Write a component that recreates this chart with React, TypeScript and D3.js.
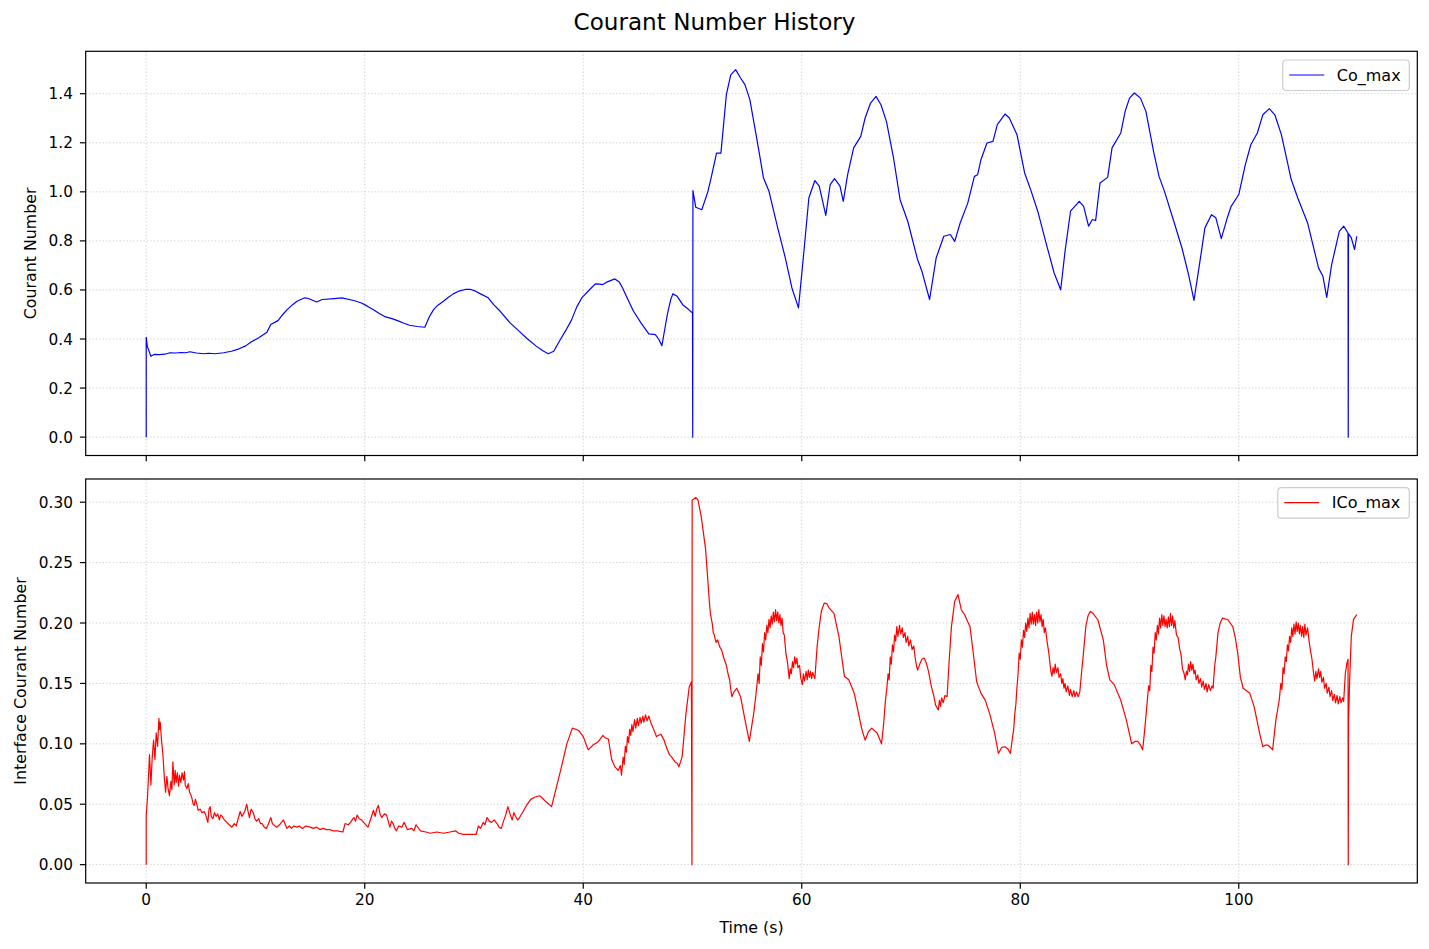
import React from 'react';
import * as d3 from 'd3';

// Co_max over time: [time (s), value]
const coMax: [number, number][] = [
  [0, 0], [0.0, 0.407], [0.1, 0.37], [0.43, 0.33], [0.72, 0.337], [1.2, 0.336], [1.7, 0.338],
  [2.17, 0.344], [2.7, 0.343], [3.2, 0.345], [3.6, 0.344], [4.0, 0.348], [4.6, 0.343], [5.25, 0.34],
  [5.7, 0.342], [6.3, 0.34], [7.07, 0.344], [7.8, 0.35], [8.5, 0.36], [9.1, 0.372], [9.6, 0.388],
  [10.3, 0.405], [11.05, 0.428], [11.4, 0.459], [12.06, 0.475], [12.5, 0.5], [12.9, 0.52], [13.4, 0.54],
  [13.8, 0.554], [14.5, 0.568], [14.85, 0.565], [15.6, 0.551], [16.1, 0.561], [17.2, 0.565], [17.9, 0.568],
  [19.0, 0.557], [19.7, 0.547], [20.2, 0.535], [20.8, 0.519], [21.3, 0.505], [21.9, 0.49], [22.5, 0.483],
  [23.0, 0.475], [23.6, 0.464], [24.1, 0.456], [24.8, 0.451], [25.5, 0.448], [25.9, 0.49], [26.3, 0.52],
  [26.7, 0.538], [27.2, 0.554], [27.6, 0.568], [28.1, 0.584], [28.6, 0.595], [29.2, 0.602], [29.7, 0.602],
  [30.1, 0.596], [30.6, 0.584], [31.3, 0.568], [31.8, 0.54], [32.4, 0.513], [33.3, 0.466], [34.2, 0.429],
  [34.9, 0.4], [35.7, 0.371], [36.3, 0.352], [36.8, 0.34], [37.3, 0.35], [37.8, 0.39], [38.4, 0.435],
  [38.9, 0.475], [39.4, 0.53], [39.9, 0.57], [40.6, 0.602], [41.1, 0.625], [41.5, 0.624], [41.8, 0.622],
  [42.2, 0.633], [42.9, 0.645], [43.3, 0.632], [43.6, 0.608], [44.1, 0.56], [44.6, 0.513], [45.3, 0.465],
  [46.0, 0.421], [46.6, 0.418], [46.9, 0.4], [47.2, 0.373], [47.5, 0.45], [47.7, 0.5], [48.0, 0.56],
  [48.2, 0.584], [48.6, 0.574], [49.1, 0.54], [49.6, 0.522], [50.0, 0.506], [50.02, 0], [50.04, 1.005],
  [50.3, 0.937], [50.85, 0.927], [51.4, 1.0], [51.7, 1.056], [52.2, 1.158], [52.6, 1.158], [53.1, 1.396],
  [53.5, 1.477], [53.95, 1.498], [54.4, 1.464], [54.8, 1.437], [55.25, 1.376], [55.9, 1.213], [56.5, 1.056],
  [57.0, 1.002], [57.8, 0.853], [58.5, 0.73], [59.1, 0.608], [59.7, 0.527], [60.2, 0.758], [60.65, 0.975],
  [61.2, 1.046], [61.6, 1.023], [62.2, 0.904], [62.6, 1.029], [63.0, 1.054], [63.5, 1.023], [63.8, 0.961],
  [64.2, 1.07], [64.75, 1.179], [65.4, 1.226], [65.8, 1.301], [66.3, 1.362], [66.8, 1.389], [67.25, 1.355],
  [67.75, 1.287], [68.4, 1.138], [69.0, 0.968], [69.7, 0.88], [70.6, 0.724], [71.0, 0.676], [71.7, 0.561],
  [72.3, 0.73], [73.0, 0.819], [73.6, 0.826], [74.0, 0.798], [74.5, 0.873], [75.2, 0.955], [75.8, 1.063],
  [76.1, 1.07], [76.4, 1.131], [76.95, 1.199], [77.5, 1.206], [77.9, 1.274], [78.6, 1.317], [79.0, 1.301],
  [79.7, 1.233], [80.4, 1.077], [80.95, 1.009], [81.6, 0.921], [82.4, 0.785], [83.1, 0.669], [83.7, 0.601],
  [84.1, 0.758], [84.6, 0.921], [85.4, 0.961], [85.8, 0.941], [86.25, 0.86], [86.6, 0.887], [86.9, 0.883],
  [87.3, 1.036], [88.0, 1.059], [88.4, 1.179], [89.2, 1.24], [89.6, 1.328], [90.0, 1.382], [90.45, 1.403],
  [91.0, 1.382], [91.5, 1.328], [92.2, 1.165], [92.7, 1.063], [93.2, 1.002], [94.1, 0.873], [94.8, 0.771],
  [95.4, 0.663], [95.9, 0.557], [96.4, 0.703], [96.9, 0.853], [97.5, 0.907], [97.9, 0.894], [98.4, 0.809],
  [98.9, 0.887], [99.3, 0.941], [100.0, 0.989], [100.6, 1.111], [101.1, 1.192], [101.7, 1.24], [102.2, 1.314],
  [102.8, 1.339], [103.3, 1.314], [103.9, 1.233], [104.8, 1.05], [105.4, 0.975], [106.3, 0.873], [107.3, 0.69],
  [107.7, 0.656], [108.05, 0.57], [108.5, 0.703], [109.2, 0.839], [109.6, 0.86], [110.0, 0.832], [110.02, 0],
  [110.04, 0.83], [110.3, 0.812], [110.6, 0.765], [110.8, 0.819],
];

// ICo_max over time: [time (s), value]
const icoMax: [number, number][] = [
  [0, 0], [0.0, 0.041], [0.12, 0.056], [0.3, 0.091], [0.43, 0.066], [0.55, 0.089], [0.67, 0.103], [0.8, 0.087],
  [0.91, 0.109], [1.04, 0.098], [1.16, 0.121], [1.22, 0.112], [1.28, 0.118], [1.4, 0.103], [1.52, 0.092],
  [1.65, 0.073], [1.77, 0.06], [1.89, 0.073], [2.0, 0.063], [2.13, 0.057], [2.26, 0.069], [2.35, 0.062],
  [2.44, 0.085], [2.56, 0.066], [2.65, 0.078], [2.74, 0.068], [2.85, 0.076], [2.96, 0.065], [3.05, 0.074],
  [3.17, 0.068], [3.28, 0.076], [3.41, 0.07], [3.5, 0.077], [3.57, 0.066], [3.72, 0.063], [3.85, 0.067],
  [3.96, 0.06], [4.08, 0.058], [4.18, 0.055], [4.3, 0.05], [4.39, 0.049], [4.5, 0.054], [4.63, 0.05],
  [4.75, 0.045], [4.94, 0.046], [5.1, 0.043], [5.3, 0.044], [5.45, 0.041], [5.64, 0.035], [5.75, 0.046],
  [5.85, 0.048], [5.95, 0.04], [6.1, 0.038], [6.25, 0.043], [6.4, 0.04], [6.55, 0.042], [6.7, 0.037],
  [6.8, 0.041], [6.95, 0.04], [7.15, 0.037], [7.38, 0.035], [7.6, 0.033], [7.84, 0.031], [8.05, 0.034],
  [8.23, 0.032], [8.6, 0.044], [8.75, 0.04], [8.9, 0.042], [9.05, 0.045], [9.2, 0.05], [9.32, 0.044],
  [9.45, 0.039], [9.6, 0.046], [9.8, 0.043], [9.95, 0.038], [10.1, 0.036], [10.3, 0.038], [10.45, 0.034],
  [10.6, 0.034], [10.8, 0.031], [11.0, 0.03], [11.2, 0.034], [11.4, 0.039], [11.55, 0.034], [11.65, 0.033],
  [11.95, 0.031], [12.2, 0.033], [12.56, 0.037], [12.87, 0.03], [13.1, 0.032], [13.3, 0.03], [13.5, 0.032],
  [13.8, 0.031], [14.0, 0.032], [14.3, 0.03], [14.6, 0.032], [15.0, 0.031], [15.3, 0.03], [15.6, 0.031],
  [15.9, 0.029], [16.2, 0.03], [16.5, 0.029], [16.8, 0.029], [17.1, 0.028], [17.5, 0.028], [18.0, 0.027],
  [18.2, 0.034], [18.5, 0.033], [18.7, 0.035], [18.85, 0.037], [19.0, 0.039], [19.15, 0.036], [19.3, 0.041],
  [19.5, 0.038], [19.7, 0.037], [20.0, 0.034], [20.3, 0.031], [20.55, 0.038], [20.8, 0.045], [20.95, 0.04],
  [21.1, 0.046], [21.25, 0.049], [21.4, 0.042], [21.55, 0.039], [21.8, 0.042], [22.0, 0.041], [22.15, 0.036],
  [22.3, 0.031], [22.45, 0.036], [22.6, 0.034], [22.75, 0.03], [22.9, 0.028], [23.1, 0.032], [23.4, 0.031],
  [23.6, 0.035], [23.9, 0.029], [24.3, 0.03], [24.5, 0.028], [24.7, 0.033], [25.1, 0.028], [25.6, 0.027],
  [26.0, 0.026], [26.6, 0.027], [27.2, 0.026], [27.8, 0.027], [28.3, 0.028], [28.6, 0.026], [29.0, 0.025],
  [29.6, 0.025], [30.2, 0.025], [30.4, 0.032], [30.6, 0.03], [30.85, 0.035], [31.0, 0.033], [31.2, 0.039],
  [31.4, 0.036], [31.6, 0.035], [31.85, 0.037], [32.1, 0.034], [32.3, 0.031], [32.5, 0.03], [32.7, 0.036],
  [32.9, 0.041], [33.1, 0.048], [33.3, 0.042], [33.5, 0.037], [33.65, 0.043], [33.8, 0.04], [34.0, 0.037],
  [34.1, 0.038], [34.5, 0.044], [34.8, 0.049], [35.2, 0.054], [35.6, 0.056], [36.0, 0.057], [36.2, 0.0556],
  [36.6, 0.052], [37.1, 0.048], [37.9, 0.077], [38.5, 0.1], [39.0, 0.113], [39.6, 0.111], [40.0, 0.106],
  [40.45, 0.095], [40.9, 0.099], [41.4, 0.102], [41.8, 0.107], [42.0, 0.105], [42.3, 0.104], [42.6, 0.087],
  [42.9, 0.081], [43.2, 0.078], [43.4, 0.082], [43.5, 0.074], [43.65, 0.089], [43.75, 0.083], [43.85, 0.098],
  [43.95, 0.093], [44.05, 0.106], [44.15, 0.101], [44.25, 0.112], [44.35, 0.107], [44.45, 0.116], [44.55, 0.11],
  [44.7, 0.12], [44.8, 0.113], [44.95, 0.121], [45.05, 0.115], [45.2, 0.122], [45.3, 0.117], [45.45, 0.123],
  [45.55, 0.118], [45.7, 0.124], [45.85, 0.119], [46.0, 0.123], [46.1, 0.12], [46.25, 0.116], [46.4, 0.113],
  [46.7, 0.106], [47.1, 0.108], [47.4, 0.103], [47.7, 0.095], [47.9, 0.091], [48.1, 0.089], [48.4, 0.085],
  [48.6, 0.084], [48.75, 0.081], [49.05, 0.089], [49.4, 0.125], [49.7, 0.147], [49.9, 0.1515], [49.95, 0],
  [49.97, 0.3016], [50.3, 0.304], [50.5, 0.302], [50.8, 0.288], [51.2, 0.261], [51.55, 0.2165], [51.65, 0.207],
  [51.8, 0.2], [51.9, 0.192], [52.0, 0.19], [52.15, 0.184], [52.3, 0.186], [52.5, 0.18], [52.65, 0.178],
  [52.9, 0.17], [53.1, 0.165], [53.25, 0.158], [53.4, 0.153], [53.5, 0.145], [53.6, 0.139], [53.8, 0.143],
  [54.05, 0.146], [54.4, 0.139], [54.8, 0.12], [55.2, 0.102], [55.6, 0.125], [55.8, 0.14], [56.0, 0.158],
  [56.1, 0.15], [56.2, 0.172], [56.3, 0.165], [56.4, 0.183], [56.5, 0.176], [56.6, 0.192], [56.7, 0.186],
  [56.8, 0.198], [56.9, 0.192], [57.0, 0.203], [57.1, 0.196], [57.2, 0.206], [57.3, 0.199], [57.4, 0.209],
  [57.5, 0.201], [57.6, 0.211], [57.7, 0.202], [57.8, 0.209], [57.9, 0.2], [58.0, 0.207], [58.1, 0.198],
  [58.2, 0.204], [58.3, 0.192], [58.4, 0.19], [58.55, 0.175], [58.7, 0.167], [58.85, 0.154], [58.95, 0.162],
  [59.05, 0.158], [59.15, 0.168], [59.25, 0.163], [59.35, 0.172], [59.45, 0.166], [59.55, 0.171], [59.65, 0.163],
  [59.8, 0.165], [59.9, 0.155], [60.05, 0.149], [60.15, 0.158], [60.25, 0.152], [60.4, 0.16], [60.5, 0.153],
  [60.6, 0.161], [60.7, 0.155], [60.8, 0.16], [60.9, 0.154], [61.0, 0.159], [61.2, 0.154], [61.4, 0.18],
  [61.6, 0.197], [61.8, 0.21], [62.05, 0.2165], [62.3, 0.216], [62.5, 0.2125], [62.95, 0.208], [63.4, 0.189],
  [63.9, 0.156], [64.3, 0.153], [64.8, 0.142], [65.2, 0.125], [65.5, 0.112], [65.8, 0.103], [66.1, 0.11],
  [66.4, 0.113], [66.9, 0.109], [67.3, 0.1], [67.5, 0.117], [67.65, 0.135], [67.8, 0.147], [67.9, 0.158],
  [68.0, 0.153], [68.1, 0.172], [68.2, 0.166], [68.3, 0.182], [68.4, 0.176], [68.5, 0.19], [68.6, 0.185],
  [68.7, 0.197], [68.8, 0.189], [68.95, 0.198], [69.05, 0.191], [69.2, 0.196], [69.3, 0.188], [69.45, 0.192],
  [69.55, 0.184], [69.7, 0.189], [69.8, 0.181], [69.95, 0.186], [70.1, 0.178], [70.25, 0.181], [70.4, 0.17],
  [70.5, 0.165], [70.6, 0.161], [70.8, 0.166], [71.0, 0.17], [71.2, 0.171], [71.4, 0.167], [71.6, 0.16],
  [71.85, 0.148], [72.1, 0.139], [72.25, 0.132], [72.5, 0.128], [72.6, 0.136], [72.7, 0.131], [72.8, 0.138],
  [72.95, 0.134], [73.1, 0.14], [73.3, 0.139], [73.5, 0.17], [73.7, 0.197], [74.0, 0.218], [74.3, 0.2235],
  [74.6, 0.211], [74.9, 0.207], [75.1, 0.203], [75.4, 0.197], [75.7, 0.175], [76.0, 0.152], [76.1, 0.149],
  [76.4, 0.142], [76.8, 0.136], [77.2, 0.125], [77.65, 0.109], [78.0, 0.092], [78.3, 0.097], [78.6, 0.0976],
  [78.85, 0.096], [79.1, 0.092], [79.3, 0.106], [79.4, 0.112], [79.5, 0.125], [79.6, 0.133], [79.7, 0.147],
  [79.8, 0.158], [79.9, 0.175], [80.0, 0.17], [80.1, 0.186], [80.2, 0.18], [80.3, 0.194], [80.4, 0.188],
  [80.5, 0.2], [80.6, 0.193], [80.7, 0.204], [80.8, 0.196], [80.9, 0.208], [81.0, 0.199], [81.1, 0.209],
  [81.2, 0.199], [81.3, 0.207], [81.4, 0.198], [81.5, 0.209], [81.6, 0.2], [81.7, 0.211], [81.8, 0.201],
  [81.9, 0.207], [82.0, 0.197], [82.1, 0.203], [82.2, 0.192], [82.3, 0.196], [82.45, 0.185], [82.6, 0.176],
  [82.7, 0.168], [82.8, 0.16], [82.9, 0.156], [83.0, 0.163], [83.1, 0.158], [83.2, 0.166], [83.3, 0.159],
  [83.45, 0.163], [83.55, 0.155], [83.7, 0.158], [83.8, 0.15], [83.9, 0.154], [84.0, 0.146], [84.1, 0.15],
  [84.2, 0.143], [84.35, 0.148], [84.5, 0.14], [84.6, 0.145], [84.75, 0.139], [84.9, 0.144], [85.0, 0.139],
  [85.15, 0.143], [85.3, 0.139], [85.45, 0.143], [85.6, 0.158], [85.75, 0.172], [86.0, 0.197], [86.2, 0.206],
  [86.4, 0.2096], [86.65, 0.208], [87.1, 0.2027], [87.6, 0.186], [87.9, 0.165], [88.2, 0.153], [88.6, 0.149],
  [89.2, 0.136], [89.7, 0.12], [90.2, 0.1], [90.5, 0.102], [90.75, 0.102], [91.0, 0.099], [91.2, 0.095],
  [91.35, 0.108], [91.5, 0.1225], [91.65, 0.138], [91.75, 0.148], [91.85, 0.144], [91.95, 0.165], [92.05, 0.16],
  [92.15, 0.18], [92.25, 0.175], [92.35, 0.192], [92.45, 0.186], [92.55, 0.198], [92.65, 0.191], [92.75, 0.204],
  [92.85, 0.196], [92.95, 0.207], [93.05, 0.198], [93.15, 0.206], [93.25, 0.197], [93.35, 0.203], [93.45, 0.196],
  [93.55, 0.205], [93.65, 0.197], [93.75, 0.208], [93.85, 0.198], [93.95, 0.206], [94.05, 0.196], [94.15, 0.202],
  [94.3, 0.19], [94.45, 0.188], [94.6, 0.178], [94.7, 0.175], [94.85, 0.162], [95.0, 0.158], [95.1, 0.153],
  [95.2, 0.16], [95.3, 0.157], [95.4, 0.166], [95.5, 0.16], [95.6, 0.168], [95.7, 0.161], [95.8, 0.166],
  [95.9, 0.158], [96.0, 0.161], [96.1, 0.153], [96.25, 0.157], [96.35, 0.15], [96.5, 0.154], [96.6, 0.147],
  [96.75, 0.152], [96.85, 0.145], [97.0, 0.15], [97.1, 0.143], [97.25, 0.149], [97.4, 0.144], [97.55, 0.148],
  [97.65, 0.146], [97.8, 0.165], [97.9, 0.172], [98.1, 0.192], [98.3, 0.2], [98.5, 0.204], [99.0, 0.2027],
  [99.45, 0.197], [99.7, 0.187], [99.9, 0.175], [100.15, 0.155], [100.4, 0.146], [100.7, 0.144], [101.0, 0.142],
  [101.4, 0.131], [101.7, 0.118], [101.9, 0.109], [102.2, 0.0976], [102.45, 0.099], [102.65, 0.099],
  [102.9, 0.097], [103.1, 0.095], [103.3, 0.112], [103.4, 0.12], [103.55, 0.128], [103.7, 0.136],
  [103.85, 0.15], [103.95, 0.145], [104.05, 0.163], [104.15, 0.158], [104.25, 0.172], [104.35, 0.168],
  [104.45, 0.182], [104.55, 0.177], [104.65, 0.189], [104.75, 0.184], [104.85, 0.196], [104.95, 0.189],
  [105.05, 0.199], [105.15, 0.191], [105.25, 0.201], [105.35, 0.193], [105.45, 0.2], [105.55, 0.191],
  [105.65, 0.198], [105.75, 0.189], [105.85, 0.197], [105.95, 0.188], [106.05, 0.199], [106.15, 0.19],
  [106.3, 0.196], [106.45, 0.184], [106.55, 0.178], [106.7, 0.17], [106.85, 0.158], [106.95, 0.152],
  [107.05, 0.16], [107.15, 0.154], [107.3, 0.162], [107.4, 0.155], [107.5, 0.16], [107.6, 0.151],
  [107.75, 0.155], [107.85, 0.146], [108.0, 0.15], [108.1, 0.142], [108.25, 0.147], [108.35, 0.139],
  [108.5, 0.144], [108.6, 0.136], [108.75, 0.141], [108.85, 0.134], [109.0, 0.14], [109.1, 0.133],
  [109.25, 0.139], [109.35, 0.134], [109.5, 0.138], [109.6, 0.135], [109.75, 0.158], [109.9, 0.167],
  [110.0, 0.17], [110.02, 0], [110.05, 0.12], [110.15, 0.153], [110.3, 0.189], [110.5, 0.203], [110.8, 0.207],
];

const xTicks = [0, 20, 40, 60, 80, 100];
const coTicks = [0, 0.2, 0.4, 0.6, 0.8, 1.0, 1.2, 1.4];
const icoTicks = [0, 0.05, 0.1, 0.15, 0.2, 0.25, 0.3];

const W = 1429;
const H = 949;
const FONT = '"DejaVu Sans", Verdana, sans-serif';
const LEFT = 85.7;
const RIGHT = 1417.3;
const TICK_FS = 15.3;
const LABEL_FS = 15.8;
const TICK_LEN = 5.8;

// matplotlib-style 5% margins
const padded = (lo: number, hi: number): [number, number] => {
  const m = (hi - lo) * 0.05;
  return [lo - m, hi + m];
};

interface PanelProps {
  data: [number, number][];
  top: number;
  bottom: number;
  ticks: number[];
  fmt: (v: number) => string;
  color: string;
  label: string;
  ylabel: string;
  ylabelX: number;
  showXLabels: boolean;
  legendWidth: number;
}

const xExtent = d3.extent([...coMax, ...icoMax], d => d[0]) as [number, number];
const xScale = d3.scaleLinear().domain(padded(xExtent[0], xExtent[1])).range([LEFT, RIGHT]);

const Panel: React.FC<PanelProps> = ({
  data,
  top,
  bottom,
  ticks,
  fmt,
  color,
  label,
  ylabel,
  ylabelX,
  showXLabels,
  legendWidth,
}) => {
  const yExt = d3.extent(data, d => d[1]) as [number, number];
  const y = d3.scaleLinear().domain(padded(yExt[0], yExt[1])).range([bottom, top]);
  const line = d3
    .line<[number, number]>()
    .x(d => xScale(d[0]))
    .y(d => y(d[1]));

  const gridStyle = {
    stroke: '#b0b0b0',
    strokeOpacity: 0.6,
    strokeWidth: 1,
    strokeDasharray: '1.3,2.1',
  };

  const legX = RIGHT - 8 - legendWidth;
  const legY = top + 8.7;

  return (
    <g>
      <defs>
        <clipPath id={`clip-${label}`}>
          <rect x={LEFT} y={top} width={RIGHT - LEFT} height={bottom - top} />
        </clipPath>
      </defs>
      {/* grid */}
      {xTicks.map(t => (
        <line key={`gx${t}`} x1={xScale(t)} x2={xScale(t)} y1={top} y2={bottom} {...gridStyle} />
      ))}
      {ticks.map(t => (
        <line key={`gy${t}`} x1={LEFT} x2={RIGHT} y1={y(t)} y2={y(t)} {...gridStyle} />
      ))}
      {/* series */}
      <path
        d={line(data) || ''}
        fill="none"
        stroke={color}
        strokeWidth={1.2}
        strokeLinejoin="round"
        clipPath={`url(#clip-${label})`}
      />
      {/* frame */}
      <rect
        x={LEFT}
        y={top}
        width={RIGHT - LEFT}
        height={bottom - top}
        fill="none"
        stroke="#000"
        strokeWidth={1.2}
      />
      {/* y ticks */}
      {ticks.map(t => (
        <g key={`ty${t}`}>
          <line x1={LEFT - TICK_LEN} x2={LEFT} y1={y(t)} y2={y(t)} stroke="#000" strokeWidth={1.2} />
          <text
            x={LEFT - TICK_LEN - 7}
            y={y(t)}
            dy="0.36em"
            textAnchor="end"
            fontSize={TICK_FS}
            fontFamily={FONT}
            fill="#000"
          >
            {fmt(t)}
          </text>
        </g>
      ))}
      {/* x ticks */}
      {xTicks.map(t => (
        <g key={`tx${t}`}>
          <line
            x1={xScale(t)}
            x2={xScale(t)}
            y1={bottom}
            y2={bottom + TICK_LEN}
            stroke="#000"
            strokeWidth={1.2}
          />
          {showXLabels && (
            <text
              x={xScale(t)}
              y={bottom + TICK_LEN + 5}
              dy="0.76em"
              textAnchor="middle"
              fontSize={TICK_FS}
              fontFamily={FONT}
              fill="#000"
            >
              {t}
            </text>
          )}
        </g>
      ))}
      {/* y label */}
      <text
        transform={`translate(${ylabelX}, ${(top + bottom) / 2}) rotate(-90)`}
        textAnchor="middle"
        dy="0.36em"
        fontSize={LABEL_FS}
        fontFamily={FONT}
        fill="#000"
      >
        {ylabel}
      </text>
      {/* legend */}
      <rect
        x={legX}
        y={legY}
        width={legendWidth}
        height={30.5}
        rx={3.5}
        fill="#fff"
        fillOpacity={0.8}
        stroke="#cccccc"
        strokeWidth={1.2}
      />
      <line
        x1={legX + 6.5}
        x2={legX + 41.5}
        y1={legY + 15}
        y2={legY + 15}
        stroke={color}
        strokeWidth={1.2}
      />
      <text
        x={legX + 54}
        y={legY + 15}
        dy="0.36em"
        fontSize={16}
        fontFamily={FONT}
        fill="#000"
      >
        {label}
      </text>
    </g>
  );
};

const App: React.FC = () => {
  return (
    <div style={{ position: 'absolute', left: 0, top: 0, width: W, height: H, background: '#fff' }}>
      <svg width={W} height={H} viewBox={`0 0 ${W} ${H}`} style={{ display: 'block' }}>
        <rect x={0} y={0} width={W} height={H} fill="#fff" />
        <text
          x={W / 2}
          y={22}
          dy="0.36em"
          textAnchor="middle"
          fontSize={23.1}
          fontFamily={FONT}
          fill="#000"
        >
          Courant Number History
        </text>
        <Panel
          data={coMax}
          top={51.3}
          bottom={455.5}
          ticks={coTicks}
          fmt={d3.format('.1f')}
          color="#0000ff"
          label="Co_max"
          ylabel="Courant Number"
          ylabelX={30}
          showXLabels={false}
          legendWidth={126.5}
        />
        <Panel
          data={icoMax}
          top={479}
          bottom={883}
          ticks={icoTicks}
          fmt={d3.format('.2f')}
          color="#ff0000"
          label="ICo_max"
          ylabel="Interface Courant Number"
          ylabelX={20}
          showXLabels={true}
          legendWidth={131.5}
        />
        <text
          x={(LEFT + RIGHT) / 2}
          y={927}
          dy="0.36em"
          textAnchor="middle"
          fontSize={LABEL_FS}
          fontFamily={FONT}
          fill="#000"
        >
          Time (s)
        </text>
      </svg>
    </div>
  );
};

export default App;
